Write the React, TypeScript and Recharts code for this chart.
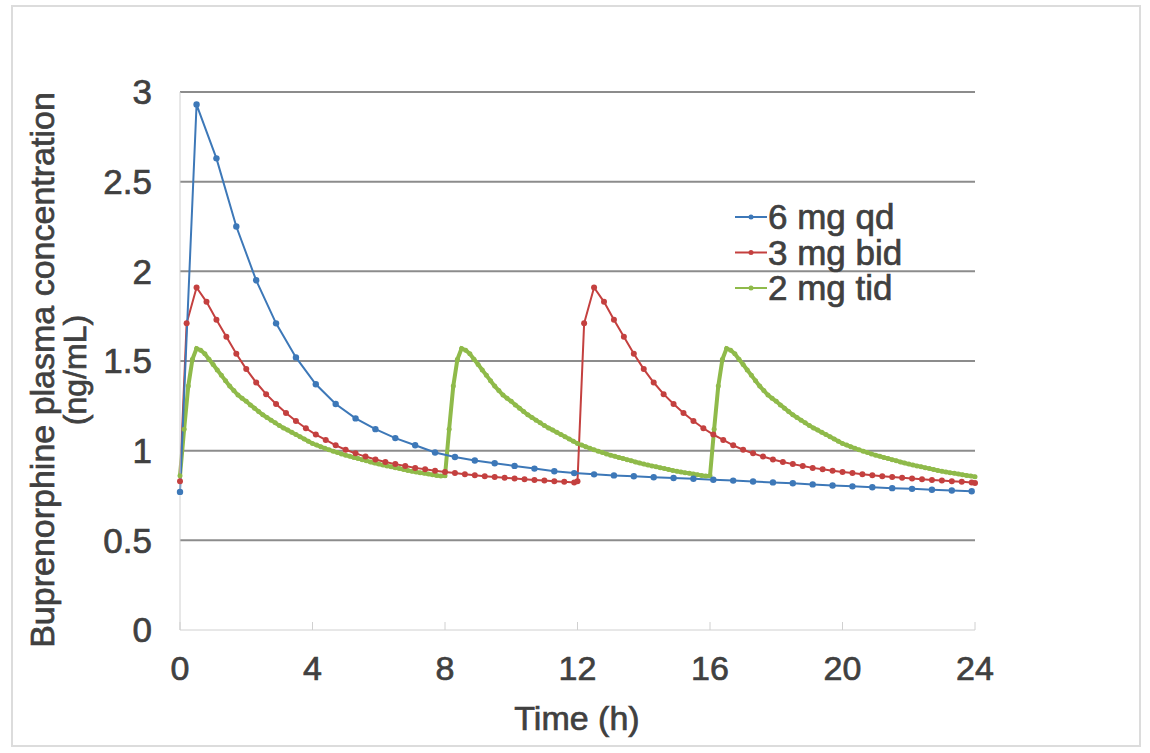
import React from "react";
import { Line, LineChart, ReferenceLine, XAxis, YAxis } from "recharts";

// blue: 6 mg once daily, [time (h), ng/mL]
const qdPoints: [number, number][] = [
  [0, 0.77], [0.5, 2.93], [1.1, 2.63], [1.7, 2.25], [2.3, 1.95], [2.9, 1.71], [3.5, 1.52],
  [4.1, 1.37], [4.7, 1.26], [5.3, 1.18], [5.9, 1.12], [6.5, 1.07], [7.1, 1.03], [7.7, 0.99],
  [8.3, 0.965], [8.9, 0.945], [9.5, 0.93], [10.1, 0.915], [10.7, 0.9], [11.3, 0.885],
  [11.9, 0.875], [12.5, 0.868], [13.1, 0.862], [13.7, 0.857], [14.3, 0.852], [14.9, 0.848],
  [15.5, 0.843], [16.1, 0.838], [16.7, 0.833], [17.3, 0.828], [17.9, 0.823], [18.5, 0.818],
  [19.1, 0.812], [19.7, 0.806], [20.3, 0.801], [20.9, 0.796], [21.5, 0.791], [22.1, 0.787],
  [22.7, 0.782], [23.3, 0.778], [23.9, 0.774],
];

// red: 3 mg twice daily, one dosing interval [time after dose, ng/mL]
const bidDose: [number, number][] = [
  [0, 0.83], [0.2, 1.71], [0.5, 1.91], [0.8, 1.83], [1.1, 1.73], [1.4, 1.635], [1.7, 1.54],
  [2.0, 1.455], [2.3, 1.38], [2.6, 1.315], [2.9, 1.26], [3.2, 1.21], [3.5, 1.165], [3.8, 1.125],
  [4.1, 1.09], [4.4, 1.06], [4.7, 1.03], [5.0, 1.005], [5.3, 0.985], [5.6, 0.967], [5.9, 0.951],
  [6.2, 0.937], [6.5, 0.925], [6.8, 0.914], [7.1, 0.904], [7.4, 0.896], [7.7, 0.888], [8.0, 0.881],
  [8.3, 0.875], [8.6, 0.869], [8.9, 0.863], [9.2, 0.858], [9.5, 0.853], [9.8, 0.849], [10.1, 0.845],
  [10.4, 0.841], [10.7, 0.837], [11.0, 0.833], [11.3, 0.829], [11.6, 0.826], [11.9, 0.822],
];
const bidStarts = [0, 12];
const bidEnd: [number, number] = [24, 0.82];

// green: 2 mg three times daily, one dosing interval sampled every 0.125 h
const tidStep = 0.125;
const tidDose = [
  0.86, 1.12, 1.36, 1.51, 1.57, 1.56, 1.54, 1.51, 1.48, 1.45, 1.42, 1.39, 1.36, 1.335, 1.31, 1.292,
  1.275, 1.255, 1.237, 1.218, 1.2, 1.185, 1.17, 1.155, 1.14, 1.127, 1.115, 1.102, 1.09, 1.077, 1.065, 1.052,
  1.04, 1.031, 1.022, 1.013, 1.005, 0.997, 0.99, 0.982, 0.975, 0.969, 0.962, 0.956, 0.95, 0.944, 0.937, 0.931,
  0.925, 0.92, 0.915, 0.91, 0.905, 0.9, 0.895, 0.89, 0.885, 0.881, 0.877, 0.874, 0.87, 0.866, 0.862, 0.859,
];
const tidStarts = [0, 8, 16];
const tidEnd: [number, number] = [24, 0.855];

const xTicks = [0, 4, 8, 12, 16, 20, 24];
const yTicks = [0, 0.5, 1, 1.5, 2, 2.5, 3];
const gridValues = [0.5, 1, 1.5, 2, 2.5, 3];

const series = [
  { name: "6 mg qd", color: "#3d78b8" },
  { name: "3 mg bid", color: "#c4403f" },
  { name: "2 mg tid", color: "#8fba4a" },
];

const qdData = qdPoints.map(([t, v]) => ({ t, v }));
const bidData = [
  ...bidStarts.flatMap((s) => bidDose.map(([t, v]) => ({ t: +(s + t).toFixed(3), v }))),
  { t: bidEnd[0], v: bidEnd[1] },
];
const tidData = [
  ...tidStarts.flatMap((s) => tidDose.map((v, i) => ({ t: s + i * tidStep, v }))),
  { t: tidEnd[0], v: tidEnd[1] },
];

const font = "'Liberation Sans', Arial, sans-serif";
const textColor = "#404040";
// blurry source text looks a touch heavier than regular weight
const heavy = { stroke: textColor, strokeWidth: 0.7 };

export default function App() {
  return (
    <div style={{ position: "absolute", left: 0, top: 0, width: 1150, height: 753, background: "#fff" }}>
      <LineChart
        width={1150}
        height={753}
        margin={{ top: 92, right: 175, bottom: 63, left: 120 }}
      >
        <XAxis
          type="number"
          dataKey="t"
          domain={[0, 24]}
          ticks={xTicks}
          allowDuplicatedCategory={false}
          height={60}
          stroke="#d0d0d0"
          tickSize={-8}
          tickMargin={34}
          tick={{ fill: textColor, fontSize: 34, fontFamily: font, ...heavy }}
        />
        <YAxis
          type="number"
          domain={[0, 3]}
          ticks={yTicks}
          width={60}
          stroke="#d0d0d0"
          tickLine={false}
          tickMargin={22}
          tick={{ fill: textColor, fontSize: 35, fontFamily: font, ...heavy }}
        />
        {gridValues.map((g) => (
          <ReferenceLine key={g} y={g} stroke="#8c8c8c" strokeWidth={2} />
        ))}
        <Line
          data={tidData}
          dataKey="v"
          name={series[2].name}
          stroke={series[2].color}
          strokeWidth={4}
          dot={{ r: 2.5, fill: series[2].color, stroke: "none" }}
          isAnimationActive={false}
        />
        <Line
          data={bidData}
          dataKey="v"
          name={series[1].name}
          stroke={series[1].color}
          strokeWidth={2}
          dot={{ r: 3, fill: series[1].color, stroke: "none" }}
          isAnimationActive={false}
        />
        <Line
          data={qdData}
          dataKey="v"
          name={series[0].name}
          stroke={series[0].color}
          strokeWidth={2}
          dot={{ r: 3.2, fill: series[0].color, stroke: "none" }}
          isAnimationActive={false}
        />
      </LineChart>
      <svg
        width={1150}
        height={753}
        style={{ position: "absolute", left: 0, top: 0, pointerEvents: "none" }}
      >
        <rect x={12} y={6} width={1128} height={740} fill="none" stroke="#dcdcdc" strokeWidth={2} />
        <text
          transform="translate(54,370) rotate(-90)"
          textAnchor="middle"
          fontSize={34}
          fontFamily={font}
          fill={textColor}
          {...heavy}
        >
          Buprenorphine plasma  concentration
        </text>
        <text
          transform="translate(86,370) rotate(-90)"
          textAnchor="middle"
          fontSize={32}
          fontFamily={font}
          fill={textColor}
          {...heavy}
        >
          (ng/mL)
        </text>
        <text x={577} y={730} textAnchor="middle" fontSize={34} fontFamily={font} fill={textColor} {...heavy}>
          Time (h)
        </text>
        {series.map((s, i) => {
          const cy = 217 + i * 35.5;
          return (
            <g key={s.name}>
              <line x1={735} x2={767} y1={cy} y2={cy} stroke={s.color} strokeWidth={2} />
              <circle cx={751} cy={cy} r={2.5} fill={s.color} />
              <text x={768} y={cy + 12} fontSize={35} fontFamily={font} fill={textColor} {...heavy}>
                {s.name}
              </text>
            </g>
          );
        })}
      </svg>
    </div>
  );
}
